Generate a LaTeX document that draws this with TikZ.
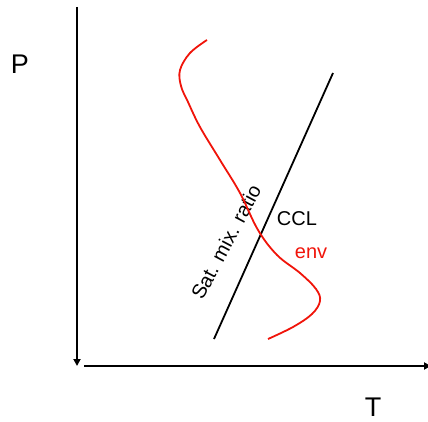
\documentclass[tikz,border=0pt]{standalone}
\usepackage{fontspec}
\setmainfont{Liberation Sans}
\usetikzlibrary{arrows.meta}
\definecolor{envred}{RGB}{240,20,10}
\begin{document}
\begin{tikzpicture}[x=1pt,y=-1pt,
  axis/.style={line width=2pt},
  lbl/.style={font=\fontsize{20}{24}\selectfont, inner sep=0pt}]
  \useasboundingbox (0,0) rectangle (428,422);
  % axes
  \coordinate (ptop) at (77,7);
  \coordinate (pbot) at (77,366);
  \coordinate (tleft) at (84,366);
  \coordinate (tright) at (431,366);
  \draw[axis,-{Triangle[length=7pt,width=7pt]}] (ptop) -- (pbot);
  \draw[axis,-{Triangle[length=7pt,width=7pt]}] (tleft) -- (tright);
  \node[lbl,font=\fontsize{27}{30}\selectfont] (P) at (20,64) {P};
  \node[lbl,font=\fontsize{27}{30}\selectfont] (T) at (373,407) {T};
  % saturation mixing ratio line
  \coordinate (sa) at (214,339);
  \coordinate (sb) at (333,73);
  \draw[line width=1.8pt] (sa) -- (sb);
  \node[lbl,rotate=62] (sat) at (226,242) {Sat. mix. ratio};
  \node[lbl] (ccl) at (297,219) {CCL};
  % environment sounding
  \draw[envred,line width=1.8pt] plot[smooth,tension=0.6] coordinates
    {(207,40) (190,53) (180,70) (181,86) (188,102) (200,127) (220,160)
     (240,193) (258,230) (277,255) (300,273) (316,289) (320,301)
     (312,314) (293,327) (268,339)};
  \node[lbl,text=envred] (env) at (311,253) {env};
\end{tikzpicture}
\end{document}
